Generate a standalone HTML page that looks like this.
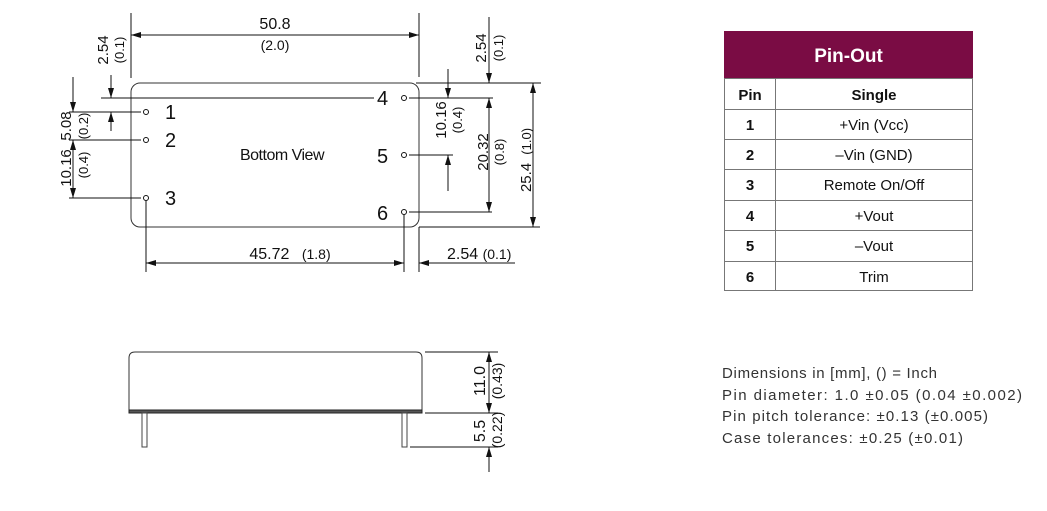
<!DOCTYPE html>
<html><head><meta charset="utf-8"><style>
html,body{margin:0;padding:0;background:#fff;}
svg{display:block;font-family:"Liberation Sans",sans-serif;}
</style></head><body>
<svg width="1047" height="511" viewBox="0 0 1047 511" xmlns="http://www.w3.org/2000/svg">
<defs>
<marker id="a" viewBox="0 0 10 6" refX="10" refY="3" markerWidth="10" markerHeight="6" markerUnits="userSpaceOnUse" orient="auto-start-reverse"><path d="M0,0 L10,3 L0,6 z" fill="#111"/></marker>
</defs>
<g stroke="#111" stroke-width="1" fill="none">
<rect x="131" y="83" width="288" height="144" rx="9" stroke="#333"/>
<line x1="131" y1="13" x2="131" y2="78"/>
<line x1="419" y1="13" x2="419" y2="77"/>
<line x1="131" y1="35" x2="419" y2="35" marker-start="url(#a)" marker-end="url(#a)"/>
<circle cx="146" cy="112" r="2.5"/><circle cx="146" cy="140" r="2.5"/><circle cx="146" cy="198" r="2.5"/>
<circle cx="404" cy="98" r="2.5"/><circle cx="404" cy="155" r="2.5"/><circle cx="404" cy="212" r="2.5"/>
<line x1="101" y1="98" x2="374" y2="98"/>
<line x1="69" y1="112" x2="141" y2="112"/>
<line x1="69" y1="140" x2="141" y2="140"/>
<line x1="69" y1="198" x2="141" y2="198"/>
<line x1="111" y1="75" x2="111" y2="98" marker-end="url(#a)"/>
<line x1="111" y1="131" x2="111" y2="112" marker-end="url(#a)"/>
<line x1="73" y1="77" x2="73" y2="112" marker-end="url(#a)"/>
<line x1="73" y1="140" x2="73" y2="198" marker-start="url(#a)" marker-end="url(#a)"/>
<line x1="409" y1="98" x2="493" y2="98"/>
<line x1="409" y1="155" x2="453" y2="155"/>
<line x1="409" y1="212" x2="492" y2="212"/>
<line x1="416" y1="83" x2="541" y2="83"/>
<line x1="419" y1="227" x2="540" y2="227"/>
<line x1="448" y1="69" x2="448" y2="98" marker-end="url(#a)"/>
<line x1="448" y1="191" x2="448" y2="155" marker-end="url(#a)"/>
<line x1="489" y1="17" x2="489" y2="83" marker-end="url(#a)"/>
<line x1="489" y1="98" x2="489" y2="212" marker-start="url(#a)" marker-end="url(#a)"/>
<line x1="533" y1="83" x2="533" y2="227" marker-start="url(#a)" marker-end="url(#a)"/>
<line x1="146" y1="201" x2="146" y2="272"/>
<line x1="404" y1="215" x2="404" y2="272"/>
<line x1="419" y1="227" x2="419" y2="272"/>
<line x1="146" y1="263" x2="404" y2="263" marker-start="url(#a)" marker-end="url(#a)"/>
<line x1="515" y1="263" x2="419" y2="263" marker-end="url(#a)"/>
<path d="M129,410 L129,358 Q129,352 135,352 L416,352 Q422,352 422,358 L422,410" stroke="#333"/>
<rect x="129" y="410" width="293" height="3" fill="#555" stroke="#222"/>
<rect x="142" y="413" width="5" height="34" stroke="#444"/>
<rect x="402" y="413" width="5" height="34" stroke="#444"/>
<line x1="425" y1="352" x2="498" y2="352"/>
<line x1="425" y1="413" x2="498" y2="413"/>
<line x1="410" y1="447" x2="498" y2="447"/>
<line x1="489" y1="352" x2="489" y2="413" marker-start="url(#a)" marker-end="url(#a)"/>
<line x1="489" y1="472" x2="489" y2="447" marker-end="url(#a)"/>
</g>
<g fill="#111" font-size="15">
<text x="275" y="29" text-anchor="middle" font-size="16">50.8</text>
<text x="275" y="50" text-anchor="middle" font-size="14">(2.0)</text>
<text x="165" y="119" font-size="20">1</text>
<text x="165" y="147" font-size="20">2</text>
<text x="165" y="205" font-size="20">3</text>
<text x="377" y="105" font-size="20">4</text>
<text x="377" y="163" font-size="20">5</text>
<text x="377" y="220" font-size="20">6</text>
<text x="282" y="160" text-anchor="middle" font-size="16" letter-spacing="-0.5">Bottom View</text>
<text x="290" y="259" text-anchor="middle" font-size="16">45.72 <tspan font-size="14" dx="8">(1.8)</tspan></text>
<text x="447" y="259" font-size="16">2.54 <tspan font-size="14">(0.1)</tspan></text>
<g font-size="15">
<text transform="translate(108,50) rotate(-90)" text-anchor="middle">2.54</text>
<text transform="translate(124,50) rotate(-90)" text-anchor="middle" font-size="13">(0.1)</text>
<text transform="translate(71,126) rotate(-90)" text-anchor="middle">5.08</text>
<text transform="translate(88,126) rotate(-90)" text-anchor="middle" font-size="13">(0.2)</text>
<text transform="translate(71,168) rotate(-90)" text-anchor="middle">10.16</text>
<text transform="translate(88,165) rotate(-90)" text-anchor="middle" font-size="13">(0.4)</text>
<text transform="translate(446,120) rotate(-90)" text-anchor="middle">10.16</text>
<text transform="translate(462,120) rotate(-90)" text-anchor="middle" font-size="13">(0.4)</text>
<text transform="translate(486,48) rotate(-90)" text-anchor="middle">2.54</text>
<text transform="translate(503,48) rotate(-90)" text-anchor="middle" font-size="13">(0.1)</text>
<text transform="translate(488,152) rotate(-90)" text-anchor="middle">20.32</text>
<text transform="translate(504,152) rotate(-90)" text-anchor="middle" font-size="13">(0.8)</text>
<text transform="translate(531,160) rotate(-90)" text-anchor="middle">25.4 <tspan font-size="13" dx="4">(1.0)</tspan></text>
<text transform="translate(485,381) rotate(-90)" text-anchor="middle" font-size="16">11.0</text>
<text transform="translate(502,381) rotate(-90)" text-anchor="middle" font-size="14">(0.43)</text>
<text transform="translate(485,431) rotate(-90)" text-anchor="middle" font-size="16">5.5</text>
<text transform="translate(502,430) rotate(-90)" text-anchor="middle" font-size="14">(0.22)</text>
</g>
</g>
<rect x="724" y="31" width="249" height="47" fill="#7a0c44"/>
<text x="848.5" y="62" text-anchor="middle" fill="#fff" font-size="19" font-weight="bold">Pin-Out</text>
<g stroke="#777" stroke-width="1" fill="none">
<rect x="724.5" y="78.5" width="248" height="212"/>
<line x1="775.5" y1="78" x2="775.5" y2="291"/>
<line x1="724" y1="109.5" x2="973" y2="109.5"/>
<line x1="724" y1="139.5" x2="973" y2="139.5"/>
<line x1="724" y1="169.5" x2="973" y2="169.5"/>
<line x1="724" y1="200.5" x2="973" y2="200.5"/>
<line x1="724" y1="230.5" x2="973" y2="230.5"/>
<line x1="724" y1="261.5" x2="973" y2="261.5"/>
</g>
<g fill="#111" font-size="15" text-anchor="middle">
<text x="750" y="100" font-weight="bold">Pin</text>
<text x="874" y="100" font-weight="bold">Single</text>
<text x="750" y="130" font-weight="bold">1</text><text x="874" y="130">+Vin (Vcc)</text>
<text x="750" y="160" font-weight="bold">2</text><text x="874" y="160">–Vin (GND)</text>
<text x="750" y="190" font-weight="bold">3</text><text x="874" y="190">Remote On/Off</text>
<text x="750" y="221" font-weight="bold">4</text><text x="874" y="221">+Vout</text>
<text x="750" y="251" font-weight="bold">5</text><text x="874" y="251">–Vout</text>
<text x="750" y="282" font-weight="bold">6</text><text x="874" y="282">Trim</text>
</g>
<g fill="#333" font-size="15">
<text x="722" y="378" textLength="215" lengthAdjust="spacing">Dimensions in [mm], () = Inch</text>
<text x="722" y="400" textLength="300" lengthAdjust="spacing">Pin diameter: 1.0 ±0.05 (0.04 ±0.002)</text>
<text x="722" y="421" textLength="266" lengthAdjust="spacing">Pin pitch tolerance: ±0.13 (±0.005)</text>
<text x="722" y="443" textLength="241" lengthAdjust="spacing">Case tolerances: ±0.25 (±0.01)</text>
</g>
</svg>
</body></html>
